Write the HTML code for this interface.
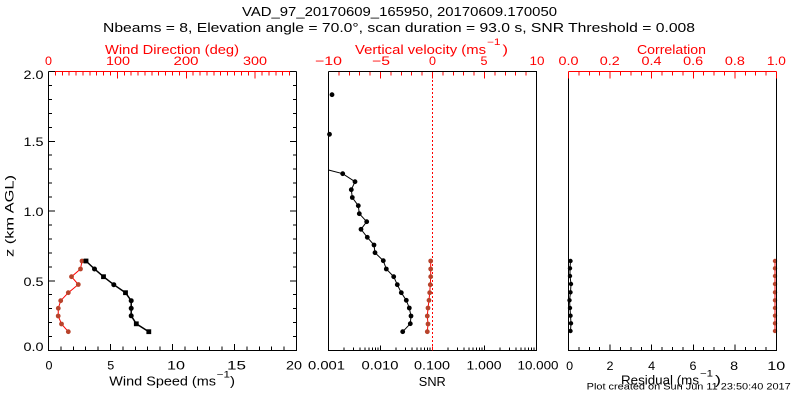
<!DOCTYPE html>
<html><head><meta charset="utf-8"><style>
html,body{margin:0;padding:0;background:#fff;}
svg{display:block;}
text{font-family:"Liberation Sans",sans-serif;}
</style></head><body>
<svg width="800" height="400" viewBox="0 0 800 400" xmlns="http://www.w3.org/2000/svg">
<rect width="800" height="400" fill="#fff"/>

<!-- Titles -->
<text x="399.5" y="16" text-anchor="middle" font-size="12.5" textLength="315" lengthAdjust="spacingAndGlyphs">VAD_97_20170609_165950, 20170609.170050</text>
<text x="399" y="32" text-anchor="middle" font-size="12.5" textLength="592" lengthAdjust="spacingAndGlyphs">Nbeams = 8, Elevation angle = 70.0°, scan duration = 93.0 s, SNR Threshold = 0.008</text>

<!-- Top axis titles (red) -->
<g fill="#ff0000" font-size="12.5">
<text x="172" y="54" text-anchor="middle" textLength="134" lengthAdjust="spacingAndGlyphs">Wind Direction (deg)</text>
<text x="355" y="54" textLength="131" lengthAdjust="spacingAndGlyphs">Vertical velocity (ms</text>
<text x="487" y="45" font-size="9" textLength="13.5" lengthAdjust="spacingAndGlyphs">−1</text>
<text x="502.5" y="54" textLength="5.5" lengthAdjust="spacingAndGlyphs">)</text>
<text x="671.5" y="54" text-anchor="middle" textLength="69" lengthAdjust="spacingAndGlyphs">Correlation</text>
</g>

<!-- Top tick labels (red) -->
<g fill="#ff0000" font-size="12" text-anchor="middle">
<text x="48.5" y="65" textLength="7" lengthAdjust="spacingAndGlyphs">0</text>
<text x="118" y="65" textLength="24" lengthAdjust="spacingAndGlyphs">100</text>
<text x="186" y="65" textLength="25" lengthAdjust="spacingAndGlyphs">200</text>
<text x="255" y="65" textLength="24" lengthAdjust="spacingAndGlyphs">300</text>
<text x="328.5" y="65" textLength="27" lengthAdjust="spacingAndGlyphs">−10</text>
<text x="381" y="65" textLength="18" lengthAdjust="spacingAndGlyphs">−5</text>
<text x="432.5" y="65" textLength="7" lengthAdjust="spacingAndGlyphs">0</text>
<text x="484" y="65" textLength="7" lengthAdjust="spacingAndGlyphs">5</text>
<text x="537" y="65" textLength="15" lengthAdjust="spacingAndGlyphs">10</text>
<text x="568.5" y="65" textLength="20" lengthAdjust="spacingAndGlyphs">0.0</text>
<text x="609.8" y="65" textLength="20" lengthAdjust="spacingAndGlyphs">0.2</text>
<text x="651.5" y="65" textLength="20" lengthAdjust="spacingAndGlyphs">0.4</text>
<text x="693.2" y="65" textLength="20" lengthAdjust="spacingAndGlyphs">0.6</text>
<text x="734.9" y="65" textLength="20" lengthAdjust="spacingAndGlyphs">0.8</text>
<text x="776.4" y="65" textLength="19" lengthAdjust="spacingAndGlyphs">1.0</text>
</g>

<!-- Y labels -->
<g font-size="12" text-anchor="end">
<text x="43.5" y="79" textLength="20" lengthAdjust="spacingAndGlyphs">2.0</text>
<text x="43.5" y="146" textLength="20" lengthAdjust="spacingAndGlyphs">1.5</text>
<text x="43.5" y="216" textLength="20" lengthAdjust="spacingAndGlyphs">1.0</text>
<text x="43.5" y="286" textLength="20" lengthAdjust="spacingAndGlyphs">0.5</text>
<text x="43.5" y="351" textLength="20" lengthAdjust="spacingAndGlyphs">0.0</text>
</g>
<text transform="translate(13.5,216) rotate(-90)" text-anchor="middle" font-size="12" textLength="82" lengthAdjust="spacingAndGlyphs">z (km AGL)</text>

<!-- Bottom tick labels -->
<g font-size="12" text-anchor="middle">
<text x="49" y="369.5" textLength="7" lengthAdjust="spacingAndGlyphs">0</text>
<text x="110.8" y="369.5" textLength="7" lengthAdjust="spacingAndGlyphs">5</text>
<text x="176" y="369.5" textLength="18" lengthAdjust="spacingAndGlyphs">10</text>
<text x="236.5" y="369.5" textLength="19" lengthAdjust="spacingAndGlyphs">15</text>
<text x="294" y="369.5" textLength="16" lengthAdjust="spacingAndGlyphs">20</text>
<text x="326.5" y="369.5" textLength="37" lengthAdjust="spacingAndGlyphs">0.001</text>
<text x="380" y="369.5" textLength="37" lengthAdjust="spacingAndGlyphs">0.010</text>
<text x="432" y="369.5" textLength="36" lengthAdjust="spacingAndGlyphs">0.100</text>
<text x="484" y="369.5" textLength="35" lengthAdjust="spacingAndGlyphs">1.000</text>
<text x="538" y="369.5" textLength="41" lengthAdjust="spacingAndGlyphs">10.000</text>
<text x="569.7" y="370" textLength="7" lengthAdjust="spacingAndGlyphs">0</text>
<text x="610" y="370" textLength="7" lengthAdjust="spacingAndGlyphs">2</text>
<text x="651.7" y="370" textLength="7" lengthAdjust="spacingAndGlyphs">4</text>
<text x="693" y="370" textLength="7" lengthAdjust="spacingAndGlyphs">6</text>
<text x="734.2" y="370" textLength="8" lengthAdjust="spacingAndGlyphs">8</text>
<text x="776.3" y="370" textLength="18" lengthAdjust="spacingAndGlyphs">10</text>
</g>

<!-- Bottom axis titles -->
<g font-size="12.5">
<text x="109.3" y="385.5" textLength="106.7" lengthAdjust="spacingAndGlyphs">Wind Speed (ms</text>
<text x="216.7" y="377.3" font-size="9" textLength="13.3" lengthAdjust="spacingAndGlyphs">−1</text>
<text x="230" y="385.5" textLength="5" lengthAdjust="spacingAndGlyphs">)</text>
<text x="432.3" y="386" text-anchor="middle" textLength="27" lengthAdjust="spacingAndGlyphs">SNR</text>
<text x="621" y="384.5" textLength="78" lengthAdjust="spacingAndGlyphs">Residual (ms</text>
<text x="700" y="376.5" font-size="9" textLength="13" lengthAdjust="spacingAndGlyphs">−1</text>
<text x="715" y="384.5" textLength="6" lengthAdjust="spacingAndGlyphs">)</text>
</g>
<text x="586.7" y="389.5" font-size="9" textLength="204" lengthAdjust="spacingAndGlyphs">Plot created on Sun Jun 11 23:50:40 2017</text>

<!-- ============ DATA ============ -->
<!-- Panel 1 -->
<polyline fill="none" stroke="#ff0000" stroke-width="1" points="82,261 80.5,269 71.5,276.7 78.3,284.5 68.3,292.7 60.7,300.7 58.3,308.3 58.2,316 61.5,324 68.3,331.7"/>
<g fill="#b8432b">
<circle cx="82" cy="261" r="2.4"/><circle cx="80.5" cy="269" r="2.4"/><circle cx="71.5" cy="276.7" r="2.4"/><circle cx="78.3" cy="284.5" r="2.4"/><circle cx="68.3" cy="292.7" r="2.4"/><circle cx="60.7" cy="300.7" r="2.4"/><circle cx="58.3" cy="308.3" r="2.4"/><circle cx="58.2" cy="316" r="2.4"/><circle cx="61.5" cy="324" r="2.4"/><circle cx="68.3" cy="331.7" r="2.4"/>
</g>
<polyline fill="none" stroke="#000" stroke-width="1.5" points="86,261 94.5,269 103.5,276.7 113.8,284.7 125.5,292.7 131.2,300.7 131.2,308.3 131.2,315.8 136.3,323.8 148.8,331.7"/>
<g fill="#000">
<rect x="83.6" y="258.6" width="4.8" height="4.8"/><circle cx="94.5" cy="269" r="2.5"/><rect x="101.1" y="274.3" width="4.8" height="4.8"/><circle cx="113.8" cy="284.7" r="2.5"/><rect x="123.1" y="290.3" width="4.8" height="4.8"/><circle cx="131.2" cy="300.7" r="2.5"/><circle cx="131.2" cy="308.3" r="2.5"/><circle cx="131.2" cy="315.8" r="2.5"/><rect x="133.9" y="321.4" width="4.8" height="4.8"/><rect x="146.4" y="329.3" width="4.8" height="4.8"/>
</g>

<!-- Panel 2 -->
<line x1="432.5" y1="72" x2="432.5" y2="350" stroke="#ff0000" stroke-width="1" stroke-dasharray="2 2"/>
<polyline fill="none" stroke="#000" stroke-width="1" points="328.5,170 342.7,173.7 355,181.7 351.3,189.7 352.3,197.5 358.3,205.7 359.3,213.7 366.7,221.7 361,229.3 367.3,237.3 374,245 375,252.7 383.3,260.7 386.3,269 393.7,276.7 397.3,284.7 401.3,292.7 406.3,300.3 409.3,308 411,316 410.3,323.7 402.7,331.7"/>
<g fill="#000">
<circle cx="332" cy="94.7" r="2.4"/><circle cx="329.5" cy="134.3" r="2.4"/>
<circle cx="342.7" cy="173.7" r="2.4"/><circle cx="355" cy="181.7" r="2.4"/><circle cx="351.3" cy="189.7" r="2.4"/><circle cx="352.3" cy="197.5" r="2.4"/><circle cx="358.3" cy="205.7" r="2.4"/><circle cx="359.3" cy="213.7" r="2.4"/><circle cx="366.7" cy="221.7" r="2.4"/><circle cx="361" cy="229.3" r="2.4"/><circle cx="367.3" cy="237.3" r="2.4"/><circle cx="374" cy="245" r="2.4"/><circle cx="375" cy="252.7" r="2.4"/><circle cx="383.3" cy="260.7" r="2.4"/><circle cx="386.3" cy="269" r="2.4"/><circle cx="393.7" cy="276.7" r="2.4"/><circle cx="397.3" cy="284.7" r="2.4"/><circle cx="401.3" cy="292.7" r="2.4"/><circle cx="406.3" cy="300.3" r="2.4"/><circle cx="409.3" cy="308" r="2.4"/><circle cx="411" cy="316" r="2.4"/><circle cx="410.3" cy="323.7" r="2.4"/><circle cx="402.7" cy="331.7" r="2.4"/>
</g>
<polyline fill="none" stroke="#ff0000" stroke-width="1" points="430.7,261 430.7,269 430.7,276.7 430.3,284.7 429.7,292.7 429,300.3 428,308 427.3,316 428,324 427.3,331.7"/>
<g fill="#b8432b">
<circle cx="430.7" cy="261" r="2.4"/><circle cx="430.7" cy="269" r="2.4"/><circle cx="430.7" cy="276.7" r="2.4"/><circle cx="430.3" cy="284.7" r="2.4"/><circle cx="429.7" cy="292.7" r="2.4"/><circle cx="429" cy="300.3" r="2.4"/><circle cx="428" cy="308" r="2.4"/><circle cx="427.3" cy="316" r="2.4"/><circle cx="428" cy="324" r="2.4"/><circle cx="427.3" cy="331.7" r="2.4"/>
</g>

<!-- Panel 3 -->
<polyline fill="none" stroke="#ff0000" stroke-width="1" points="775,261 775,268.3 775,276 775,284 775,292.3 775,300.3 775,308 775,315.7 775,323.3 775,331"/>
<g fill="#b8432b">
<circle cx="775" cy="261" r="2.2"/><circle cx="775" cy="268.3" r="2.2"/><circle cx="775" cy="276" r="2.2"/><circle cx="775" cy="284" r="2.2"/><circle cx="775" cy="292.3" r="2.2"/><circle cx="775" cy="300.3" r="2.2"/><circle cx="775" cy="308" r="2.2"/><circle cx="775" cy="315.7" r="2.2"/><circle cx="775" cy="323.3" r="2.2"/><circle cx="775" cy="331" r="2.2"/>
</g>
<polyline fill="none" stroke="#000" stroke-width="1" points="570.5,261 570,268.3 570,276 571,284 570.5,292.3 569.5,300.3 570,308 570.5,315.7 571,323.3 570.5,331"/>
<g fill="#000">
<circle cx="570.5" cy="261" r="2.2"/><circle cx="570" cy="268.3" r="2.2"/><circle cx="570" cy="276" r="2.2"/><circle cx="571" cy="284" r="2.2"/><circle cx="570.5" cy="292.3" r="2.2"/><circle cx="569.5" cy="300.3" r="2.2"/><circle cx="570" cy="308" r="2.2"/><circle cx="570.5" cy="315.7" r="2.2"/><circle cx="571" cy="323.3" r="2.2"/><circle cx="570.5" cy="331" r="2.2"/>
</g>

<!-- ============ AXES ============ -->
<g shape-rendering="crispEdges" fill="none" stroke-width="1">
<!-- Panel 1 top (red) -->
<path stroke="#ff0000" d="M48.5 71.5H296.5
M55.39 71.5V75.5M62.28 71.5V75.5M69.17 71.5V75.5M76.06 71.5V75.5M82.94 71.5V75.5M89.83 71.5V75.5M96.72 71.5V75.5M103.61 71.5V75.5M110.5 71.5V75.5
M124.28 71.5V75.5M131.17 71.5V75.5M138.06 71.5V75.5M144.94 71.5V75.5M151.83 71.5V75.5M158.72 71.5V75.5M165.61 71.5V75.5M172.5 71.5V75.5M179.39 71.5V75.5
M193.17 71.5V75.5M200.06 71.5V75.5M206.94 71.5V75.5M213.83 71.5V75.5M220.72 71.5V75.5M227.61 71.5V75.5M234.5 71.5V75.5M241.39 71.5V75.5M248.28 71.5V75.5
M262.06 71.5V75.5M268.94 71.5V75.5M275.83 71.5V75.5M282.72 71.5V75.5M289.61 71.5V75.5
M48.5 71.5V78.5M117.39 71.5V78.5M186.28 71.5V78.5M255.17 71.5V78.5"/>
<!-- Panel 1 box & ticks (black) -->
<path stroke="#000" d="M48.5 71.5V350.5H296.5V71.5
M60.9 350.5V346.5M73.3 350.5V346.5M85.7 350.5V346.5M98.1 350.5V346.5M122.9 350.5V346.5M135.3 350.5V346.5M147.7 350.5V346.5M160.1 350.5V346.5
M184.9 350.5V346.5M197.3 350.5V346.5M209.7 350.5V346.5M222.1 350.5V346.5M246.9 350.5V346.5M259.3 350.5V346.5M271.7 350.5V346.5M284.1 350.5V346.5
M110.5 350.5V344M172.5 350.5V344M234.5 350.5V344
M48.5 336.55H52M48.5 322.6H52M48.5 308.65H52M48.5 294.7H52M48.5 266.8H52M48.5 252.85H52M48.5 238.9H52M48.5 224.95H52
M48.5 197.05H52M48.5 183.1H52M48.5 169.15H52M48.5 155.2H52M48.5 127.3H52M48.5 113.35H52M48.5 99.4H52M48.5 85.45H52
M48.5 280.75H55M48.5 211H55M48.5 141.25H55M48.5 71.5H55
M296.5 336.55H293M296.5 322.6H293M296.5 308.65H293M296.5 294.7H293M296.5 266.8H293M296.5 252.85H293M296.5 238.9H293M296.5 224.95H293
M296.5 197.05H293M296.5 183.1H293M296.5 169.15H293M296.5 155.2H293M296.5 127.3H293M296.5 113.35H293M296.5 99.4H293M296.5 85.45H293
M296.5 280.75H290M296.5 211H290M296.5 141.25H290M296.5 71.5H290"/>

<!-- Panel 2 top ticks (red) -->
<path stroke="#ff0000" d="M338.9 71.5V75.5M349.3 71.5V75.5M359.7 71.5V75.5M370.1 71.5V75.5M390.9 71.5V75.5M401.3 71.5V75.5M411.7 71.5V75.5M422.1 71.5V75.5
M442.9 71.5V75.5M453.3 71.5V75.5M463.7 71.5V75.5M474.1 71.5V75.5M494.9 71.5V75.5M505.3 71.5V75.5M515.7 71.5V75.5M526.1 71.5V75.5
M380.5 71.5V78.5M432.5 71.5V78.5M484.5 71.5V78.5"/>
<!-- Panel 2 box & bottom log ticks (black) -->
<path stroke="#000" d="M328.5 71.5V350.5H536.5V71.5H328.5
M344.15 350.5V347.5M353.31 350.5V347.5M359.81 350.5V347.5M364.85 350.5V347.5M368.96 350.5V347.5M372.45 350.5V347.5M375.46 350.5V347.5M378.12 350.5V347.5
M396.15 350.5V347.5M405.31 350.5V347.5M411.81 350.5V347.5M416.85 350.5V347.5M420.96 350.5V347.5M424.45 350.5V347.5M427.46 350.5V347.5M430.12 350.5V347.5
M448.15 350.5V347.5M457.31 350.5V347.5M463.81 350.5V347.5M468.85 350.5V347.5M472.96 350.5V347.5M476.45 350.5V347.5M479.46 350.5V347.5M482.12 350.5V347.5
M500.15 350.5V347.5M509.31 350.5V347.5M515.81 350.5V347.5M520.85 350.5V347.5M524.96 350.5V347.5M528.45 350.5V347.5M531.46 350.5V347.5M534.12 350.5V347.5
M380.5 350.5V345.5M484.5 350.5V345.5"/>
<path stroke="#ff0000" d="M432.5 350.5V346.5"/>

<!-- Panel 3 box & bottom ticks (black) -->
<path stroke="#000" d="M568.5 71.5V350.5H776.5V71.5
M578.9 350.5V347M589.3 350.5V347M599.7 350.5V347M620.5 350.5V347M630.9 350.5V347M641.3 350.5V347M662.1 350.5V347M672.5 350.5V347M682.9 350.5V347
M703.7 350.5V347M714.1 350.5V347M724.5 350.5V347M745.3 350.5V347M755.7 350.5V347M766.1 350.5V347
M610.1 350.5V344.5M651.7 350.5V344.5M693.3 350.5V344.5M734.9 350.5V344.5"/>
<!-- Panel 3 top (red) -->
<path stroke="#ff0000" d="M568.5 71.5H776.5
M578.9 71.5V75.5M589.3 71.5V75.5M599.7 71.5V75.5M620.5 71.5V75.5M630.9 71.5V75.5M641.3 71.5V75.5M662.1 71.5V75.5M672.5 71.5V75.5M682.9 71.5V75.5
M703.7 71.5V75.5M714.1 71.5V75.5M724.5 71.5V75.5M745.3 71.5V75.5M755.7 71.5V75.5M766.1 71.5V75.5
M568.5 71.5V78.5M610.1 71.5V78.5M651.7 71.5V78.5M693.3 71.5V78.5M734.9 71.5V78.5M776.5 71.5V78.5"/>
</g>
</svg>
</body></html>
